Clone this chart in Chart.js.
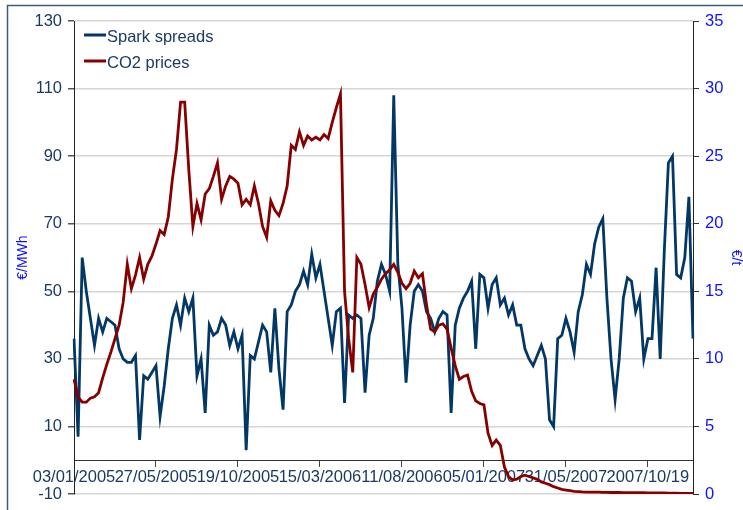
<!DOCTYPE html>
<html>
<head>
<meta charset="utf-8">
<script src="https://cdn.jsdelivr.net/npm/chart.js@4"></script>
<style>
  html, body { margin: 0; padding: 0; background: #ffffff; }
  #wrap { width: 743px; height: 510px; position: relative; }
</style>
</head>
<body>
<div id="wrap"><canvas id="c"></canvas></div>
<script>
// ---- Data ----
const tickLabels = ['03/01/2005', '27/05/2005', '19/10/2005', '15/03/2006', '11/08/2006', '05/01/2007', '31/05/2007', '2007/10/19'];
const pointsPerTick = 20;

// Spark spreads, €/MWh (left axis)
const sparkSpreads = [
  36, 7, 60, 50, 42, 34, 42, 38, 42, 41,
  40, 33, 30, 29, 29, 31, 6, 25, 24, 26,
  28, 13, 22, 33, 42, 46, 40, 48, 44, 48,
  25, 30, 14, 40, 37, 38, 42, 40, 34, 38,
  33, 37, 3, 31, 30, 35, 40, 38, 26, 45,
  27, 15, 44, 46, 50, 52, 56, 52, 61, 54,
  58, 50, 42, 34, 44, 45, 17, 43, 42, 43,
  42, 20, 37, 42, 53, 58, 55, 50, 108, 58,
  45, 23, 40, 50, 52, 50, 44, 42, 38, 42,
  44, 43, 14, 40, 45, 48, 50, 53, 33, 55,
  54, 45, 52, 54, 46, 48, 43, 46, 40, 40,
  33, 30, 28, 31, 34, 30, 12, 10, 36, 37,
  42, 38, 32, 44, 49, 58, 55, 64, 69, 71.5,
  48, 30, 18, 30, 48, 54, 53, 44, 48, 30,
  36, 36, 57, 30, 62, 88, 90, 55, 54, 60,
  78, 36
];

// CO2 prices, €/t (right axis)
const co2Prices = [
  8.5, 7.2, 6.8, 6.8, 7.1, 7.2, 7.5, 8.6, 9.6, 10.5,
  11.5, 12.5, 14.2, 17, 15.2, 16.2, 17.5, 15.9, 17, 17.6,
  18.5, 19.5, 19.2, 20.5, 23.3, 25.5, 29, 29, 24, 19.8,
  21.5, 20.3, 22.2, 22.6, 23.5, 24.5, 21.8, 22.8, 23.5, 23.3,
  23, 21.4, 21.8, 21.4, 22.8, 21.5, 19.8, 19, 21.7, 21,
  20.6, 21.5, 22.8, 25.8, 25.5, 26.8, 25.8, 26.5, 26.2, 26.4,
  26.2, 26.6, 26.3, 27.5, 28.6, 29.6, 15, 11.5, 9, 17.5,
  17, 15.5, 13.8, 14.8, 15.3, 15.9, 16.3, 16.6, 17, 16.4,
  15.6, 15.2, 15.6, 16.5, 16, 16.3, 14, 12.2, 12, 12.5,
  12.6, 12.2, 10.8, 9.5, 8.5, 8.7, 8.8, 7.6, 6.9, 6.7,
  6.6, 4.5, 3.6, 4.0, 3.6, 2, 1.3, 1.05, 1.1, 1.3,
  1.4, 1.3, 1.2, 1.1, 0.9, 0.8, 0.7, 0.55, 0.45, 0.35,
  0.3, 0.25, 0.2, 0.18, 0.16, 0.15, 0.15, 0.14, 0.14, 0.13,
  0.13, 0.12, 0.12, 0.12, 0.11, 0.11, 0.1, 0.1, 0.1, 0.1,
  0.09, 0.09, 0.08, 0.08, 0.08, 0.07, 0.07, 0.07, 0.06, 0.06,
  0.06, 0.05
];

const seriesNames = ['Spark spreads', 'CO2 prices'];
const seriesColors = ['#033766', '#870000'];

// category labels: a tick label every pointsPerTick points, blank otherwise
const categories = sparkSpreads.map((_, i) =>
  (i % pointsPerTick === 0 && tickLabels[i / pointsPerTick] !== undefined) ? tickLabels[i / pointsPerTick] : '');

const FONT = 'Liberation Sans, Arial, sans-serif';
const NAVY = '#1b3a63';
const BLUE = '#1010ff';

// outer frame
const framePlugin = {
  id: 'frame',
  beforeDraw(chart) {
    const ctx = chart.ctx;
    ctx.save();
    ctx.strokeStyle = '#3d5b7c';
    ctx.lineWidth = 1.5;
    ctx.beginPath();
    ctx.moveTo(7.5, 520);
    ctx.lineTo(7.5, 5.5);
    ctx.lineTo(760, 5.5);
    ctx.stroke();
    ctx.restore();
  }
};

// legend inside the plot, top-left
const legendPlugin = {
  id: 'insideLegend',
  afterDatasetsDraw(chart) {
    const ctx = chart.ctx;
    const area = chart.chartArea;
    ctx.save();
    ctx.font = '16.5px ' + FONT;
    ctx.textBaseline = 'middle';
    chart.data.datasets.forEach((ds, i) => {
      const y = area.top + 14 + i * 26;
      const x0 = area.left + 10;
      ctx.strokeStyle = ds.borderColor;
      ctx.lineWidth = 3;
      ctx.beginPath();
      ctx.moveTo(x0, y);
      ctx.lineTo(x0 + 22, y);
      ctx.stroke();
      ctx.fillStyle = NAVY;
      ctx.fillText(ds.label, x0 + 23, y + 2);
    });
    ctx.restore();
  }
};

new Chart(document.getElementById('c'), {
  type: 'line',
  data: {
    labels: categories,
    datasets: [
      {
        label: seriesNames[0],
        data: sparkSpreads,
        yAxisID: 'y',
        borderColor: seriesColors[0],
        backgroundColor: seriesColors[0],
        borderWidth: 2.8,
        pointRadius: 0,
        tension: 0,
        order: 1
      },
      {
        label: seriesNames[1],
        data: co2Prices,
        yAxisID: 'y1',
        borderColor: seriesColors[1],
        backgroundColor: seriesColors[1],
        borderWidth: 2.8,
        pointRadius: 0,
        tension: 0,
        order: 0
      }
    ]
  },
  options: {
    responsive: true,
    maintainAspectRatio: false,
    animation: false,
    layout: { padding: { left: 8, right: 0, top: 21, bottom: 14 } },
    plugins: {
      legend: { display: false },
      tooltip: { enabled: false }
    },
    scales: {
      x: {
        type: 'category',
        position: { y: 0 },
        offset: false,
        afterBuildTicks(scale) {
          scale.ticks = scale.ticks.filter(t => categories[t.value] !== '');
        },
        ticks: {
          autoSkip: false,
          maxRotation: 0,
          minRotation: 0,
          padding: 1,
          color: NAVY,
          font: { family: FONT, size: 16.5 }
        },
        grid: {
          display: true,
          drawOnChartArea: false,
          drawTicks: true,
          tickLength: 6,
          tickColor: '#444444',
          tickWidth: 1
        },
        border: { display: true, color: '#333333', width: 1 }
      },
      y: {
        position: 'left',
        min: -10,
        max: 130,
        afterFit(scale) { scale.width = 66; },
        ticks: {
          stepSize: 20,
          padding: 6,
          color: NAVY,
          font: { family: FONT, size: 16.5 }
        },
        grid: {
          color: '#d6d6d6',
          lineWidth: 1.5,
          tickLength: 6,
          tickColor: '#555555'
        },
        border: { display: true, color: '#222222', width: 1 },
        title: {
          display: true,
          text: '€/MWh',
          color: BLUE,
          font: { family: FONT, size: 14, lineHeight: 1.2 },
          padding: { top: 7, bottom: 0 }
        }
      },
      y1: {
        position: 'right',
        min: 0,
        max: 35,
        afterFit(scale) { scale.width = 50; },
        ticks: {
          stepSize: 5,
          padding: 6,
          color: BLUE,
          font: { family: FONT, size: 16.5 }
        },
        grid: {
          drawOnChartArea: false,
          tickLength: 6,
          tickColor: '#333333'
        },
        border: { display: true, color: '#222222', width: 1 },
        title: {
          display: true,
          text: '€/t',
          color: BLUE,
          font: { family: FONT, size: 14, lineHeight: 1 },
          padding: { top: 0, bottom: 0 }
        }
      }
    }
  },
  plugins: [framePlugin, legendPlugin]
});
</script>
</body>
</html>
